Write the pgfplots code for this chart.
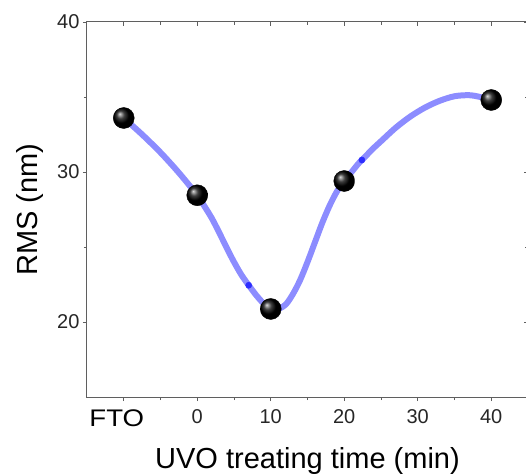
\documentclass[border=0pt]{standalone}
\usepackage{pgfplots}
\pgfplotsset{compat=1.18}
\usepackage{fontspec}
\setmainfont{Liberation Sans}
\usetikzlibrary{calc}
\definecolor{curve}{RGB}{140,140,255}
\definecolor{dotblue}{RGB}{45,45,255}
\definecolor{axgray}{RGB}{95,95,95}
\begin{document}
\begin{tikzpicture}
\begin{axis}[name=ax, scale only axis, width=441pt, height=375pt,
  xmin=-15, xmax=45, ymin=15, ymax=40,
  xtick={-10,0,10,20,30,40},
  xticklabels={{\raisebox{5pt}{\fontsize{24}{24}\selectfont\color{black}\scalebox{1.15}[1]{FTO}\hspace*{14pt}}},0,10,20,30,40},
  minor x tick num=1,
  ytick={20,30,40}, minor y tick num=1,
  tick align=outside, xtick pos=left, ytick pos=left,
  major tick length=4pt, minor tick length=3pt,
  axis line style={axgray, line width=1pt},
  every tick/.style={axgray, line width=0.8pt},
  ticklabel style={font=\fontsize{20}{20}\selectfont, text=black!85},
  xticklabel style={yshift=-5pt},
  /pgf/number format/assume math mode=true,
  xlabel={UVO treating time (min)}, ylabel={RMS (nm)},
  label style={font=\fontsize{29}{29}\selectfont},
  xlabel style={at={(axis description cs:0.5,0)}, anchor=base, yshift=-71pt},
  ylabel style={at={(axis description cs:-0.1293,0.5)}, anchor=center},
]
\addplot[curve, line width=6pt, smooth, tension=0.5] table {
x y
-10 33.6
-7.5 32.5
-5 31.3
-2.5 29.95
0 28.45
1 27.7
2 26.9
3 25.95
4 24.95
5 24.0
6 23.15
7 22.45
8 21.8
9 21.25
10 20.9
10.7 20.8
12 21.15
13 21.85
14 22.8
15 24.0
16 25.3
17 26.6
18 27.75
19 28.7
20 29.4
21 30.0
22 30.6
23 31.1
24 31.6
25 32.05
27 32.95
29 33.7
31 34.3
33 34.75
35 35.05
37 35.12
38.5 35.0
40 34.8
};
\addplot[only marks, mark=*, mark size=3.1pt, mark options={dotblue, draw=none}] table {
x y
7 22.45
22.4 30.8
};
\addplot[only marks, mark=ball, mark options={ball color=black}, mark size=10.5pt] table {
x y
-10 33.6
0 28.45
10 20.87
20 29.4
40 34.8
};
\end{axis}
\begin{axis}[scale only axis, width=441pt, height=375pt,
  xmin=-15, xmax=45, ymin=15, ymax=40,
  axis x line*=top, axis y line*=right,
  xtick={-10,0,10,20,30,40}, minor x tick num=1,
  ytick={20,30,40}, minor y tick num=1,
  xticklabels={}, yticklabels={},
  tick align=inside,
  major tick length=4pt, minor tick length=3pt,
  axis line style={axgray, line width=1pt, -},
  every tick/.style={axgray, line width=0.8pt},
]
\end{axis}
\pgfresetboundingbox
\path[use as bounding box] ($(ax.south west)+(-87pt,-77pt)$) rectangle ($(ax.south west)+(439pt,397pt)$);
\end{tikzpicture}
\end{document}
